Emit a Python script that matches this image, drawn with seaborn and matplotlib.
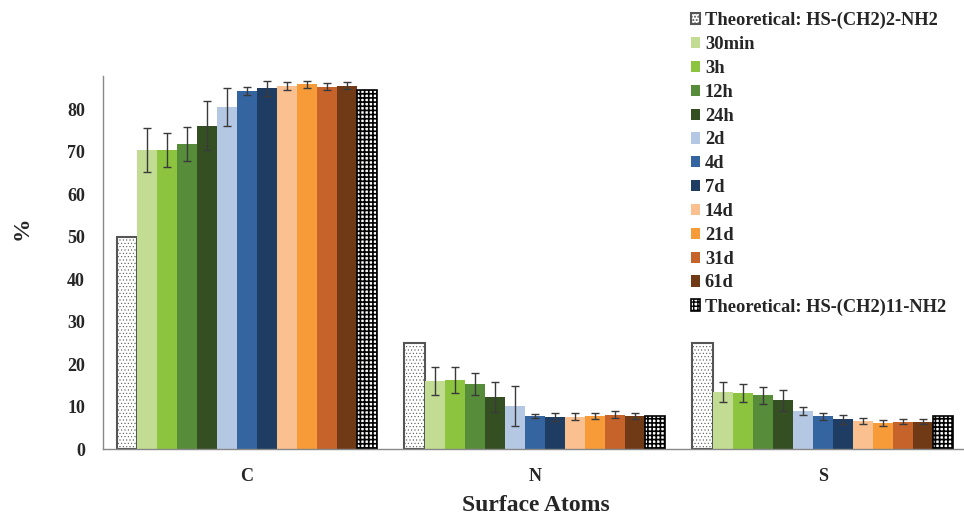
import numpy as np
import pandas as pd
import seaborn as sns
import matplotlib
matplotlib.use('Agg')
import matplotlib.pyplot as plt

# valeurs
atoms = ['C', 'N', 'S']
series = ['Theoretical: HS-(CH2)2-NH2', '30min', '3h', '12h', '24h', '2d', '4d', '7d',
          '14d', '21d', '31d', '61d', 'Theoretical: HS-(CH2)11-NH2']
colors = ['white', '#c3dc93', '#8cc43f', '#578c3b', '#344f22', '#b4c8e4', '#3565a0',
          '#1f3d63', '#fac08f', '#f79a38', '#c6632a', '#713a17', 'white']

val_C = [50.0, 70.3, 70.3, 71.8, 76.1, 80.5, 84.2, 84.9, 85.5, 85.8, 85.3, 85.5, 84.5]
val_N = [25.0, 16.0, 16.2, 15.3, 12.2, 10.1, 7.7, 7.6, 7.6, 7.8, 8.1, 7.8, 7.7]
val_S = [25.0, 13.4, 13.1, 12.6, 11.5, 9.0, 7.7, 7.0, 6.6, 6.1, 6.4, 6.4, 7.8]

err_C = [0, 5.2, 4.0, 4.1, 5.8, 4.5, 0.9, 1.7, 1.0, 0.9, 0.9, 0.8, 0]
err_N = [0, 3.3, 3.0, 2.7, 3.5, 4.8, 0.5, 0.9, 0.8, 0.7, 0.8, 0.7, 0]
err_S = [0, 2.4, 2.1, 2.0, 2.5, 1.0, 0.8, 1.1, 0.6, 0.7, 0.6, 0.6, 0]

rows = []
for atom, vals, errs in zip(atoms, [val_C, val_N, val_S], [err_C, err_N, err_S]):
    for s, v, e in zip(series, vals, errs):
        rows.append({'atom': atom, 'series': s, 'value': v, 'err': e})
df = pd.DataFrame(rows)

sns.set_style('white')
plt.rcParams['font.family'] = ['Liberation Serif', 'DejaVu Serif']
plt.rcParams['font.weight'] = 'bold'

fig = plt.figure(figsize=(9.64, 5.17), dpi=100)
ax = fig.add_axes([103 / 964, 68 / 517, 861 / 964, 373 / 517])

sns.barplot(data=df, x='atom', y='value', hue='series', order=atoms, hue_order=series,
            palette=colors, errorbar=None, width=0.906, gap=0, linewidth=0,
            saturation=1, ax=ax)
bars = list(ax.containers)

# barres d'erreur
for i, cont in enumerate(bars):
    sub = df[df['series'] == series[i]].set_index('atom').loc[atoms]
    xs = [p.get_x() + p.get_width() / 2 for p in cont.patches]
    hs = [p.get_height() for p in cont.patches]
    if sub['err'].sum() > 0:
        ax.errorbar(xs, hs, yerr=sub['err'].values, fmt='none', ecolor='#3a3a3a',
                    elinewidth=1, capsize=3, capthick=1)

# motifs des barres théoriques
for p in bars[0].patches:
    p.set_facecolor('white')
    p.set_edgecolor('#555555')
    p.set_hatch('.....')
    p.set_linewidth(1.5)
    if hasattr(p, 'set_hatch_linewidth'):
        p.set_hatch_linewidth(0.4)
for p in bars[-1].patches:
    p.set_facecolor('white')
    p.set_edgecolor('black')
    p.set_hatch('++++')
    p.set_linewidth(1.2)
    if hasattr(p, 'set_hatch_linewidth'):
        p.set_hatch_linewidth(1.2)

ax.set_xlim(-0.5, 2.49)
ax.set_ylim(0, 87.8)
ax.set_yticks(range(0, 90, 10))
ax.set_xticks([0.5, 1.5], minor=True)
ax.tick_params(axis='x', which='major', length=0, labelsize=13, pad=14)
ax.tick_params(axis='x', which='minor', length=5, color='#888888', width=1, direction='out')
ax.tick_params(axis='y', length=5, color='#888888', width=1, direction='out', labelsize=13, pad=8)
for lab in ax.get_xticklabels() + ax.get_yticklabels():
    lab.set_fontweight('bold')

sns.despine(ax=ax)
for sp in ['left', 'bottom']:
    ax.spines[sp].set_color('#888888')
    ax.spines[sp].set_linewidth(1)

ax.set_xlabel('')
ax.set_ylabel('')
fig.text(536 / 964, 1 / 517, 'Surface Atoms', ha='center', va='bottom',
         fontsize=17, fontweight='bold')
fig.text(22 / 964, 1 - 228 / 517, '%', ha='center', va='center', rotation=90,
         fontsize=17, fontweight='bold')

if ax.get_legend() is not None:
    ax.get_legend().remove()
handles = [c.patches[0] for c in bars]
fig.legend(handles, series, loc='upper left', bbox_to_anchor=(691 / 964, 1 - 12 / 517),
           frameon=False, prop={'weight': 'bold', 'size': 13.3},
           handlelength=0.5, handleheight=0.55, handletextpad=0.25, labelspacing=0.37,
           borderaxespad=0, borderpad=0)

fig.savefig('out.png', dpi=100)
